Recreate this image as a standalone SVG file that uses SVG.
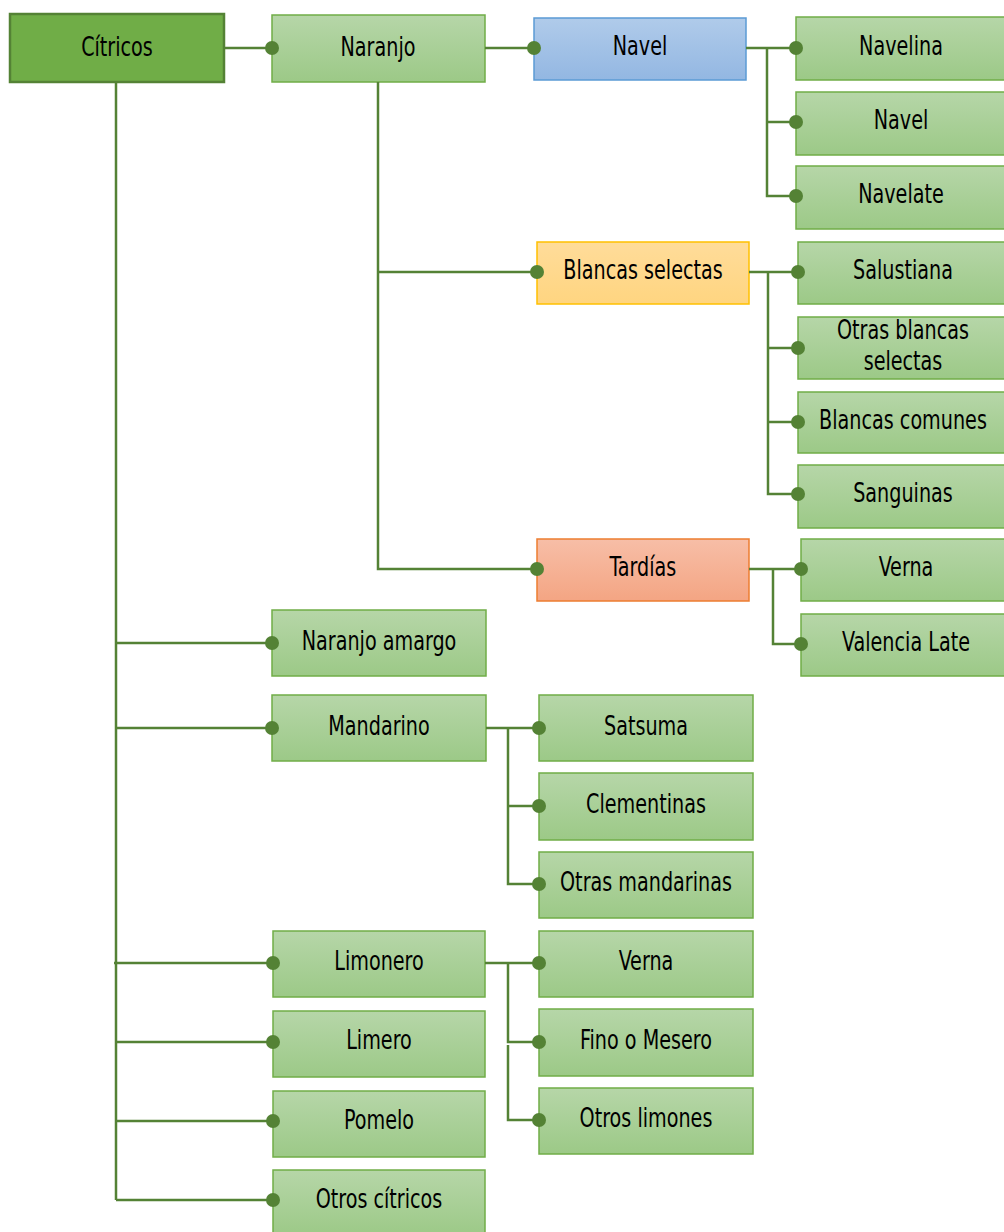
<svg xmlns="http://www.w3.org/2000/svg" width="1004" height="1232" viewBox="0 0 1004 1232">
<defs>
<linearGradient id="gG" x1="0" y1="0" x2="0" y2="1"><stop offset="0" stop-color="#b6d6a8"/><stop offset="1" stop-color="#9cc987"/></linearGradient>
<linearGradient id="gB" x1="0" y1="0" x2="0" y2="1"><stop offset="0" stop-color="#b0cbea"/><stop offset="1" stop-color="#93b7e2"/></linearGradient>
<linearGradient id="gY" x1="0" y1="0" x2="0" y2="1"><stop offset="0" stop-color="#ffdc9a"/><stop offset="1" stop-color="#ffd580"/></linearGradient>
<linearGradient id="gR" x1="0" y1="0" x2="0" y2="1"><stop offset="0" stop-color="#f7bea7"/><stop offset="1" stop-color="#f4a583"/></linearGradient>
</defs>
<style>
.g{fill:url(#gG);stroke:#70ad47;stroke-width:1.5}
.b{fill:url(#gB);stroke:#5b9bd5;stroke-width:1.5}
.y{fill:url(#gY);stroke:#ffc000;stroke-width:1.5}
.r{fill:url(#gR);stroke:#ed7d31;stroke-width:1.5}
.root{fill:#70ad47;stroke:#548235;stroke-width:2.5}
text{font-family:"DejaVu Sans Condensed","Liberation Sans Narrow","Liberation Sans",sans-serif;font-size:26px;fill:#000;text-anchor:middle;transform-box:fill-box;transform-origin:center;transform:scaleX(0.82)}
.c path{fill:none;stroke:#548235;stroke-width:2.5}
.c circle{fill:#548235}
</style>
<rect width="1004" height="1232" fill="#fff"/>
<g id="citricos"><rect class="root" x="10" y="14" width="214" height="68"/><text x="117" y="56">Cítricos</text></g>
<g id="naranjo"><rect class="g" x="272" y="15" width="213" height="67"/><text x="378" y="56">Naranjo</text></g>
<g id="navel"><rect class="b" x="534" y="18" width="212" height="62"/><text x="640" y="55">Navel</text></g>
<g id="navelina"><rect class="g" x="796" y="17" width="210" height="63"/><text x="901" y="55">Navelina</text></g>
<g id="navel2"><rect class="g" x="796" y="92" width="210" height="63"/><text x="901" y="129">Navel</text></g>
<g id="navelate"><rect class="g" x="796" y="166" width="210" height="63"/><text x="901" y="203">Navelate</text></g>
<g id="blancas"><rect class="y" x="537" y="242" width="212" height="62"/><text x="643" y="279">Blancas selectas</text></g>
<g id="salustiana"><rect class="g" x="798" y="242" width="210" height="62"/><text x="903" y="279">Salustiana</text></g>
<g id="otrasblancas"><rect class="g" x="798" y="317" width="210" height="62"/><text x="903" y="339">Otras blancas</text><text x="903" y="370">selectas</text></g>
<g id="comunes"><rect class="g" x="798" y="392" width="210" height="61"/><text x="903" y="429">Blancas comunes</text></g>
<g id="sanguinas"><rect class="g" x="798" y="465" width="210" height="63"/><text x="903" y="502">Sanguinas</text></g>
<g id="tardias"><rect class="r" x="537" y="539" width="212" height="62"/><text x="643" y="576">Tardías</text></g>
<g id="verna1"><rect class="g" x="801" y="539" width="210" height="62"/><text x="906" y="576">Verna</text></g>
<g id="valencia"><rect class="g" x="801" y="614" width="210" height="62"/><text x="906" y="651">Valencia Late</text></g>
<g id="amargo"><rect class="g" x="272" y="610" width="214" height="66"/><text x="379" y="650">Naranjo amargo</text></g>
<g id="mandarino"><rect class="g" x="272" y="695" width="214" height="66"/><text x="379" y="735">Mandarino</text></g>
<g id="satsuma"><rect class="g" x="539" y="695" width="214" height="66"/><text x="646" y="735">Satsuma</text></g>
<g id="clementinas"><rect class="g" x="539" y="773" width="214" height="67"/><text x="646" y="813">Clementinas</text></g>
<g id="otrasmand"><rect class="g" x="539" y="852" width="214" height="66"/><text x="646" y="891">Otras mandarinas</text></g>
<g id="limonero"><rect class="g" x="273" y="931" width="212" height="66"/><text x="379" y="970">Limonero</text></g>
<g id="limero"><rect class="g" x="273" y="1011" width="212" height="66"/><text x="379" y="1049">Limero</text></g>
<g id="pomelo"><rect class="g" x="273" y="1091" width="212" height="66"/><text x="379" y="1129">Pomelo</text></g>
<g id="otroscitricos"><rect class="g" x="273" y="1170" width="212" height="66"/><text x="379" y="1208">Otros cítricos</text></g>
<g id="verna2"><rect class="g" x="539" y="931" width="214" height="66"/><text x="646" y="970">Verna</text></g>
<g id="fino"><rect class="g" x="539" y="1009" width="214" height="67"/><text x="646" y="1049">Fino o Mesero</text></g>
<g id="otroslimones"><rect class="g" x="539" y="1088" width="214" height="66"/><text x="646" y="1127">Otros limones</text></g>
<g class="c" id="connectors">
<path d="M224 48H272"/>
<path d="M116 82V1200"/>
<path d="M116 643H272M116 728H272M114 963H273M116 1042H273M116 1121H273M116 1200H273"/>
<path d="M485 48H534"/>
<path d="M378 82V569H537M378 272H537"/>
<path d="M746 48H796M767 48V196H796M767 122H796"/>
<path d="M749 272H798M768 272V494H798M768 348H798M768 422H798"/>
<path d="M749 569H801M773 569V644H801"/>
<path d="M486 728H539M508 728V884H539M508 806H539"/>
<path d="M485 963H539M508 963V1042H539M508 1045V1120H539"/>
<circle cx="272" cy="48" r="7"/>
<circle cx="534" cy="48" r="7"/>
<circle cx="796" cy="48" r="7"/><circle cx="796" cy="122" r="7"/><circle cx="796" cy="196" r="7"/>
<circle cx="537" cy="272" r="7"/><circle cx="537" cy="569" r="7"/>
<circle cx="798" cy="272" r="7"/><circle cx="798" cy="348" r="7"/><circle cx="798" cy="422" r="7"/><circle cx="798" cy="494" r="7"/>
<circle cx="801" cy="569" r="7"/><circle cx="801" cy="644" r="7"/>
<circle cx="272" cy="643" r="7"/><circle cx="272" cy="728" r="7"/><circle cx="273" cy="963" r="7"/><circle cx="273" cy="1042" r="7"/><circle cx="273" cy="1121" r="7"/><circle cx="273" cy="1200" r="7"/>
<circle cx="539" cy="728" r="7"/><circle cx="539" cy="806" r="7"/><circle cx="539" cy="884" r="7"/>
<circle cx="539" cy="963" r="7"/><circle cx="539" cy="1042" r="7"/><circle cx="539" cy="1120" r="7"/>
</g>
</svg>
